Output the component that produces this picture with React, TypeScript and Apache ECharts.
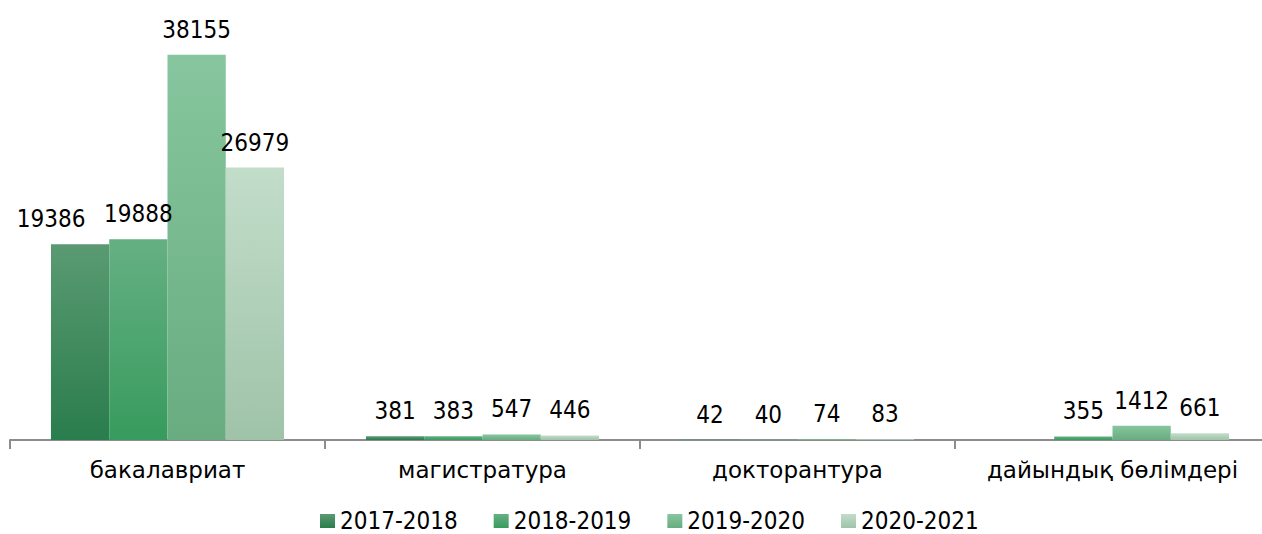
import React, { useEffect, useRef } from "react";
import * as echarts from "echarts";

const categories = ["бакалавриат", "магистратура", "докторантура", "дайындық бөлімдері"];
const seriesNames = ["2017-2018", "2018-2019", "2019-2020", "2020-2021"];
const s2017 = [19386, 381, 42, null];
const s2018 = [19888, 383, 40, 355];
const s2019 = [38155, 547, 74, 1412];
const s2020 = [26979, 446, 83, 661];

const FONT = '"DejaVu Sans Condensed", "Liberation Sans Narrow", sans-serif';
const FONT_WIDE = '"DejaVu Sans", sans-serif';

const gradients = [
  ["#5a9a72", "#2a7d4d"],
  ["#65b083", "#379b5d"],
  ["#87c69e", "#68ac80"],
  ["#c2ddca", "#9fc3a8"],
];

export default function App() {
  const ref = useRef<HTMLDivElement>(null);
  useEffect(() => {
    document.body.style.margin = "0";
    document.body.style.overflow = "hidden";
    const chart = echarts.init(ref.current!, null, { renderer: "svg" });
    const data = [s2017, s2018, s2019, s2020];
    chart.setOption({
      animation: false,
      backgroundColor: "#ffffff",
      textStyle: { fontFamily: FONT },
      grid: { left: 10, right: 0, top: 36, bottom: 94, containLabel: false },
      legend: {
        left: 320,
        top: 509,
        padding: 0,
        itemWidth: 15,
        itemHeight: 14,
        itemGap: 36,
        icon: "rect",
        textStyle: { fontFamily: FONT, fontSize: 24, lineHeight: 24, color: "#000" },
        data: seriesNames,
      },
      xAxis: {
        type: "category",
        data: categories,
        axisLine: { lineStyle: { color: "#8c8c8c", width: 2 } },
        axisTick: { show: true, interval: 0, length: 9, lineStyle: { color: "#8c8c8c", width: 2 } },
        axisLabel: { interval: 0, fontFamily: FONT_WIDE, fontSize: 23, color: "#000", margin: 18 },
      },
      yAxis: {
        type: "value",
        min: 0,
        max: 40000,
        show: false,
        splitLine: { show: false },
      },
      series: seriesNames.map((name, i) => ({
        name,
        type: "bar",
        data: data[i].map((v, j) =>
          i === 0 && j === 0 ? { value: v, label: { offset: [-29, 0] } } : v
        ),
        barGap: "0%",
        barCategoryGap: "26%",
        itemStyle: {
          color: new echarts.graphic.LinearGradient(0, 0, 0, 1, [
            { offset: 0, color: gradients[i][0] },
            { offset: 1, color: gradients[i][1] },
          ]),
        },
        label: {
          show: true,
          position: "top",
          distance: 13,
          fontFamily: FONT,
          fontSize: 24,
          color: "#000",
        },
      })),
    });
    return () => chart.dispose();
  }, []);
  return <div ref={ref} style={{ width: 1270, height: 534 }} />;
}
